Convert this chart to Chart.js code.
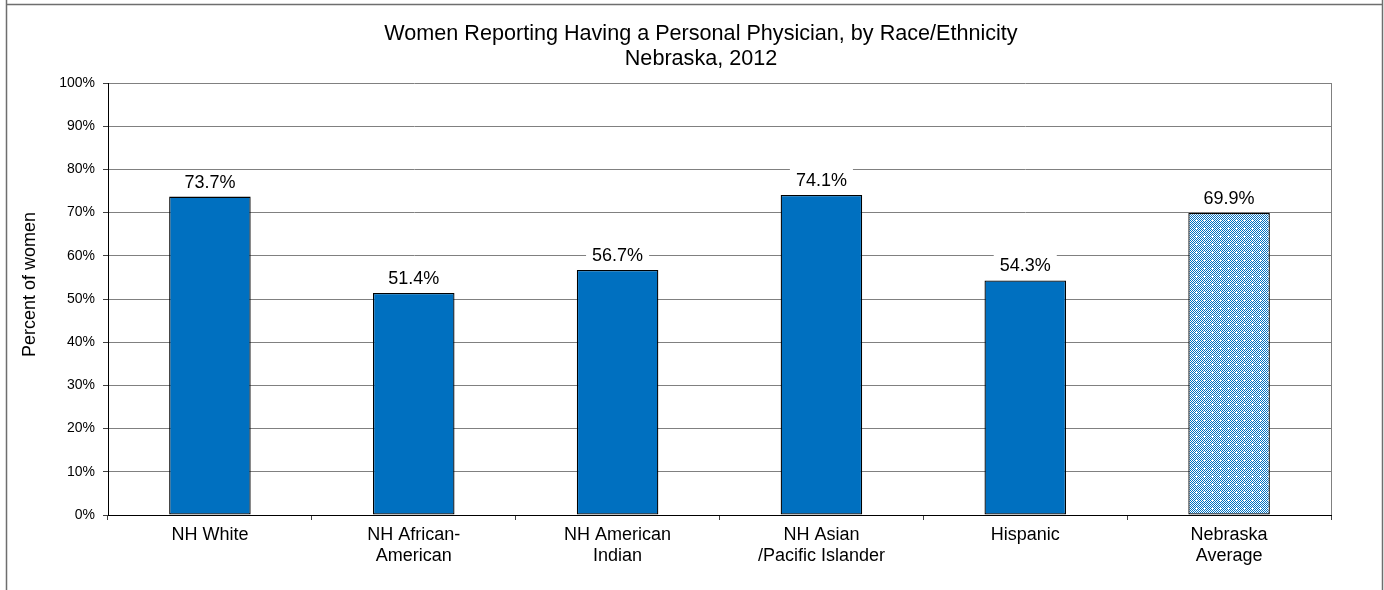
<!DOCTYPE html>
<html>
<head>
<meta charset="utf-8">
<script src="https://cdn.jsdelivr.net/npm/chart.js@4/dist/chart.umd.min.js"></script>
<style>
  html, body { margin: 0; padding: 0; background: #fff; }
  #wrap { width: 1384px; height: 590px; position: relative; }
</style>
</head>
<body>
<div id="wrap"><canvas id="c" width="1384" height="590"></canvas></div>
<script>
const categories = [["NH White"], ["NH African-", "American"], ["NH American", "Indian"], ["NH Asian", "/Pacific Islander"], ["Hispanic"], ["Nebraska", "Average"]];
const values = [73.7, 51.4, 56.7, 74.1, 54.3, 69.9];
const titleLines = ["Women Reporting Having a Personal Physician, by Race/Ethnicity", "Nebraska, 2012"];
const yAxisTitle = "Percent of women";
const yMin = 0, yMax = 100, yStep = 10;

const FONT = "'Liberation Sans', Arial, sans-serif";
const BLUE = "#0070C0";

function makePattern() {
  const t = document.createElement('canvas');
  t.width = 8; t.height = 8;
  const g = t.getContext('2d');
  g.fillStyle = '#ffffff';
  g.fillRect(0, 0, 8, 8);
  g.fillStyle = BLUE;
  for (let y = 0; y < 8; y++) {
    for (let x = 0; x < 8; x++) {
      if ((x + y) % 2 === 0) g.fillRect(x, y, 1, 1);
    }
  }
  g.fillStyle = '#ffffff';
  g.fillRect(3, 4, 3, 1);
  g.fillRect(4, 3, 1, 3);
  return g.createPattern(t, 'repeat');
}

const ctx = document.getElementById('c').getContext('2d');
const pattern = makePattern();
const colors = values.map((v, i) => i === values.length - 1 ? pattern : BLUE);

const decorPlugin = {
  id: 'decor',
  beforeDatasetsDraw(chart) {
    const { ctx, chartArea } = chart;
    ctx.save();
    ctx.strokeStyle = '#808080';
    ctx.lineWidth = 1;
    ctx.beginPath();
    ctx.moveTo(Math.round(chartArea.right) + 0.5, chartArea.top);
    ctx.lineTo(Math.round(chartArea.right) + 0.5, chartArea.bottom);
    ctx.stroke();
    ctx.restore();
  },
  afterDatasetsDraw(chart) {
    const { ctx } = chart;
    const meta = chart.getDatasetMeta(0);
    const ds = chart.data.datasets[0];
    ctx.save();
    ctx.font = "18px " + FONT;
    ctx.textAlign = 'center';
    ctx.textBaseline = 'middle';
    meta.data.forEach((bar, i) => {
      const txt = ds.data[i].toFixed(1) + '%';
      const w = ctx.measureText(txt).width + 12;
      const cy = bar.y - 15;
      ctx.fillStyle = '#ffffff';
      ctx.fillRect(bar.x - w / 2, cy - 11, w, 22);
      ctx.fillStyle = '#000000';
      ctx.fillText(txt, bar.x, cy + 1);
    });
    ctx.restore();
  },
  afterDraw(chart) {
    const { ctx } = chart;
    ctx.save();
    // title
    ctx.fillStyle = '#000000';
    ctx.font = "21.6px " + FONT;
    ctx.textAlign = 'center';
    ctx.textBaseline = 'alphabetic';
    ctx.fillText(titleLines[0], 701, 40);
    ctx.fillText(titleLines[1], 701, 65);
    // y axis title
    ctx.save();
    ctx.translate(35, 284.5);
    ctx.rotate(-Math.PI / 2);
    ctx.font = "18px " + FONT;
    ctx.textAlign = 'center';
    ctx.fillText(yAxisTitle, 0, 0);
    ctx.restore();
    // outer frame
    ctx.strokeStyle = '#6e6e6e';
    ctx.lineWidth = 1.5;
    ctx.beginPath();
    ctx.moveTo(6.5, 0); ctx.lineTo(6.5, 590);
    ctx.moveTo(1382.5, 0); ctx.lineTo(1382.5, 590);
    ctx.moveTo(6, 4.5); ctx.lineTo(1383, 4.5);
    ctx.stroke();
    ctx.restore();
  }
};

new Chart(ctx, {
  type: 'bar',
  data: {
    labels: categories,
    datasets: [{
      data: values,
      backgroundColor: colors,
      borderColor: '#000000',
      borderWidth: 1.3,
      borderSkipped: false,
      barPercentage: 0.4,
      categoryPercentage: 1.0
    }]
  },
  options: {
    responsive: false,
    animation: false,
    events: [],
    layout: { padding: { top: 83, left: 0, right: 53, bottom: 0 } },
    plugins: {
      legend: { display: false },
      tooltip: { enabled: false },
      title: { display: false }
    },
    scales: {
      x: {
        grid: {
          display: true,
          drawOnChartArea: false,
          drawTicks: true,
          tickLength: 5,
          tickColor: '#404040',
          offset: true
        },
        border: { display: true, color: '#000000', width: 1 },
        ticks: {
          color: '#000000',
          font: { family: FONT, size: 18, lineHeight: 1.15 },
          padding: 5,
          maxRotation: 0,
          autoSkip: false
        },
        afterFit(scale) { scale.height = 75; }
      },
      y: {
        min: yMin,
        max: yMax,
        grid: {
          color: '#808080',
          lineWidth: 1,
          tickLength: 5,
          tickColor: '#404040'
        },
        border: { display: true, color: '#000000', width: 1 },
        ticks: {
          stepSize: yStep,
          color: '#000000',
          font: { family: FONT, size: 14 },
          padding: 8,
          callback: v => v + '%'
        },
        title: { display: false },
        afterFit(scale) { scale.width = 108; }
      }
    }
  },
  plugins: [decorPlugin]
});
</script>
</body>
</html>
